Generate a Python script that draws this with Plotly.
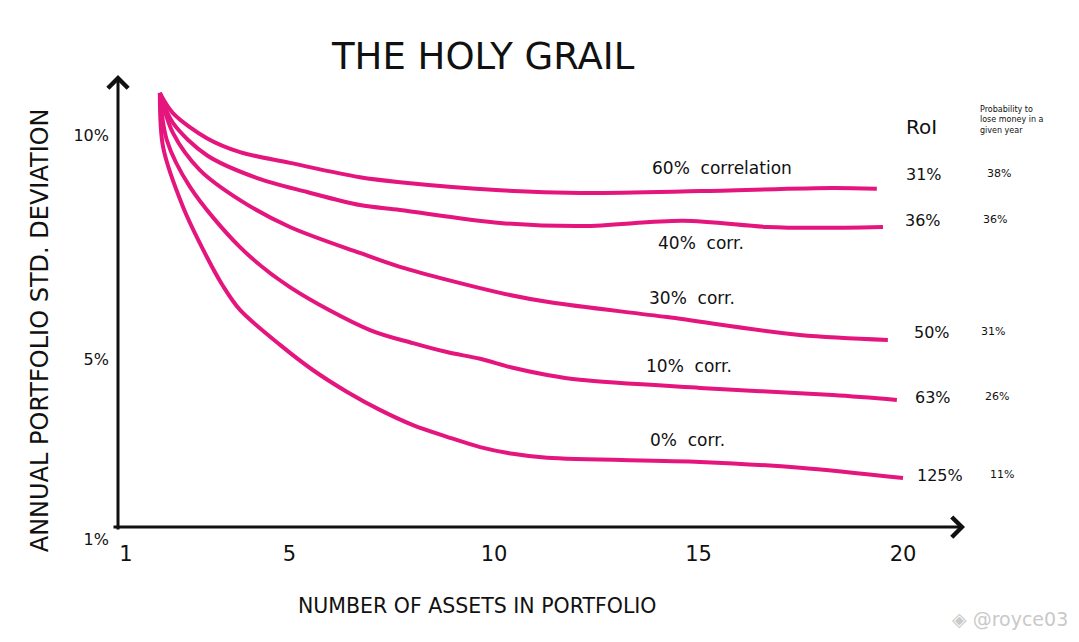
import plotly.graph_objects as go

# curves (x = number of assets, y = annual std. dev. in %)
corr_labels = ["60%  correlation", "40%  corr.", "30%  corr.", "10%  corr.", "0%  corr."]

x_60 = [1.83, 2.15, 2.98, 3.79, 5.01, 6.72, 7.70, 10.15, 12.10, 15.04, 18.29, 19.36]
y_60 = [10.95, 10.50, 9.94, 9.63, 9.39, 9.07, 8.96, 8.78, 8.72, 8.76, 8.83, 8.81]

x_40 = [1.83, 2.15, 2.98, 4.21, 5.43, 6.72, 7.70, 10.15, 12.18, 14.62, 16.67, 17.90, 19.51]
y_40 = [10.95, 10.28, 9.56, 9.05, 8.74, 8.45, 8.34, 8.05, 7.98, 8.10, 7.96, 7.94, 7.96]

x_30 = [1.83, 2.15, 2.81, 3.79, 5.01, 6.72, 7.70, 10.15, 11.37, 14.23, 17.48, 19.63]
y_30 = [10.95, 10.06, 9.23, 8.56, 7.96, 7.38, 7.07, 6.49, 6.28, 5.95, 5.55, 5.44]

x_10 = [1.83, 2.00, 2.57, 3.79, 5.01, 6.97, 8.02, 8.85, 9.66, 10.46, 11.30, 12.10, 15.04, 18.29, 19.85]
y_10 = [10.95, 9.90, 8.85, 7.51, 6.62, 5.66, 5.37, 5.17, 5.02, 4.82, 4.66, 4.55, 4.37, 4.21, 4.10]

x_0 = [1.83, 1.91, 2.40, 2.98, 3.37, 3.79, 4.77, 5.57, 6.41, 7.21, 8.02, 8.85, 9.66, 10.46,
       11.30, 15.04, 17.48, 20.00]
y_0 = [10.95, 9.74, 8.40, 7.29, 6.65, 6.11, 5.33, 4.77, 4.28, 3.88, 3.54, 3.28, 3.05, 2.90,
       2.81, 2.72, 2.59, 2.36]

roi = ["31%", "36%", "50%", "63%", "125%"]
prob_loss = ["38%", "36%", "31%", "26%", "11%"]

x_ticks = [1, 5, 10, 15, 20]
y_ticks = [1, 5, 10]
y_ticktext = ["1%", "5%", "10%"]

PINK = "#E5157E"
INK = "#111111"
FONT = "DejaVu Sans"

series = [(x_60, y_60), (x_40, y_40), (x_30, y_30), (x_10, y_10), (x_0, y_0)]

fig = go.Figure()
for (xs, ys), name in zip(series, corr_labels):
    fig.add_trace(go.Scatter(
        x=xs, y=ys, name=name, mode="lines",
        line=dict(color=PINK, width=4, shape="spline", smoothing=0.9),
        showlegend=False, hoverinfo="skip",
    ))


def note(text, x, y, size, xref="paper", yref="paper", **kw):
    fig.add_annotation(xref=xref, yref=yref, x=x, y=y, text=text, showarrow=False,
                       xanchor="center", yanchor="middle",
                       font=dict(family=FONT, size=size, color=kw.pop("color", INK)), **kw)


# curve labels (placed near each curve)
label_pos = [(15.57, 9.28), (15.06, 7.60), (14.84, 6.37), (14.77, 4.85), (14.74, 3.20)]
for (lx, ly), text in zip(label_pos, corr_labels):
    note(text, lx, ly, 17, xref="x", yref="y")

# right-hand columns: RoI and probability to lose money, next to each curve end
roi_x = [0.952, 0.951, 0.961, 0.962, 0.970]
prob_x = [1.040, 1.035, 1.033, 1.038, 1.044]
for (xs, ys), r, p, rx, px, dy in zip(series, roi, prob_loss, roi_x, prob_x, [14, 6, 7, 3, 3]):
    note(r, rx, ys[-1], 16, yref="y", yshift=dy)
    note(p, px, ys[-1], 11, yref="y", yshift=dy + 1)

note("RoI", 0.949, 0.888, 20)
note("Probability to<br>lose money in a<br>given year", 1.055, 0.903, 8, align="left")

# titles
note("THE HOLY GRAIL", 0.431, 1.039, 37)
note("ANNUAL PORTFOLIO STD. DEVIATION", -0.092, 0.45, 24, textangle=-90)
note("NUMBER OF ASSETS IN PORTFOLIO", 0.425, -0.144, 20.5)

# hand-drawn style axes with arrow heads
fig.add_annotation(xref="paper", yref="y", x=1.0, y=1.265, ax=-853, ay=0,
                   text="", showarrow=True, arrowhead=4, arrowsize=1.3,
                   arrowwidth=3, arrowcolor=INK)
fig.add_annotation(xref="paper", yref="paper", x=0.0, y=1.0, ax=0, ay=456,
                   text="", showarrow=True, arrowhead=4, arrowsize=1.3,
                   arrowwidth=3, arrowcolor=INK)

# watermark
note("◈ @royce03", 1.053, -0.172, 19, color="#c9c9c9")

# page body adds an 8px offset, so the figure is 16px smaller than the window
fig.update_layout(
    width=1063, height=626,
    margin=dict(l=110, r=106, t=67, b=95),
    paper_bgcolor="white", plot_bgcolor="white",
    font=dict(family=FONT, color=INK),
    xaxis=dict(range=[0.807, 21.516], tickvals=x_ticks, showgrid=False, zeroline=False,
               showline=False, ticks="", tickfont=dict(size=21, color=INK)),
    yaxis=dict(range=[1, 11.35], tickvals=y_ticks, ticktext=y_ticktext, showgrid=False,
               zeroline=False, showline=False, ticks="", ticklabelstandoff=8,
               tickfont=dict(size=16, color=INK)),
)

fig.write_html("out.html")
